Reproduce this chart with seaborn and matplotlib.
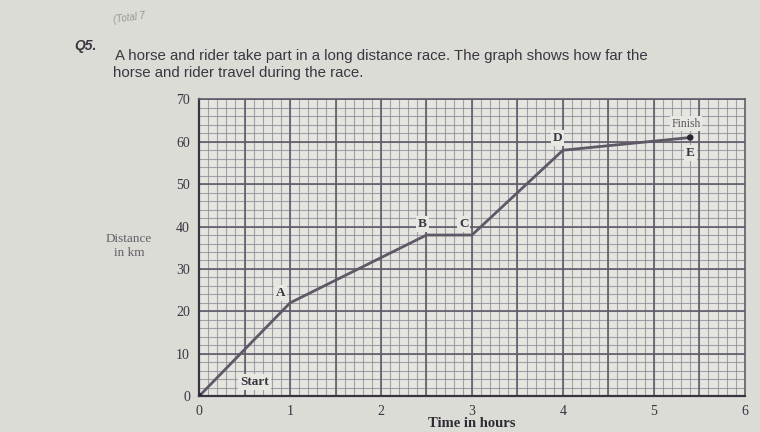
import numpy as np
import pandas as pd
import matplotlib as mpl
mpl.use('Agg')
import seaborn as sns
import matplotlib.pyplot as plt
from matplotlib.ticker import MultipleLocator

# points (time in hours, distance in km)
point_names = ['Start', 'A', 'B', 'C', 'D', 'E']
hours = [0.0, 1.0, 2.5, 3.0, 4.0, 5.4]
distance = [0.0, 22.0, 38.0, 38.0, 58.0, 61.0]

x_ticks = [0, 1, 2, 3, 4, 5, 6]
y_ticks = [0, 10, 20, 30, 40, 50, 60, 70]

paper = '#dcdcd6'
ink = '#5f5866'
grid_minor = '#8d8694'
grid_major = '#625a6a'

sns.set_theme(style='white')
plt.rcParams['font.family'] = ['Liberation Sans', 'DejaVu Sans']

fig = plt.figure(figsize=(7.6, 4.32), dpi=100, facecolor=paper)
ax = fig.add_axes([0.262, 0.083, 0.718, 0.687])
ax.set_facecolor('#e6e6e0')

race_df = pd.DataFrame({'hours': hours, 'distance': distance,
                        'point': point_names})

# graph paper grid: small squares of 0.1 h by 2 km, heavy every 0.5 h / 10 km
for xv in np.arange(0.1, 6, 0.1):
    ax.axvline(xv, color=grid_minor, lw=0.8, alpha=0.75, zorder=1)
for yv in np.arange(2, 70, 2):
    ax.axhline(yv, color=grid_minor, lw=0.8, alpha=0.75, zorder=1)
for xv in np.arange(0.5, 6, 0.5):
    ax.axvline(xv, color=grid_major, lw=1.2, zorder=1)
for yv in y_ticks[1:]:
    ax.axhline(yv, color=grid_major, lw=1.2, zorder=1)

# the journey
sns.lineplot(data=race_df, x='hours', y='distance', ax=ax, color=ink,
             lw=2.0, sort=False, zorder=3)
ends = race_df.iloc[[0, -1]]
sns.scatterplot(data=ends, x='hours', y='distance', ax=ax, color='#2a2530',
                s=22, zorder=4, edgecolor='none')

# point labels
box = dict(boxstyle='square,pad=0.15', fc='#e8e8e3', ec='none')
offsets = {'Start': (40, 10), 'A': (-7, 7), 'B': (-3, 8), 'C': (-6, 8),
           'D': (-4, 9), 'E': (0, -11)}
for _, row in race_df.iterrows():
    ax.annotate(row['point'], (row['hours'], row['distance']),
                xytext=offsets[row['point']], textcoords='offset points',
                ha='center', va='center', fontsize=9.5, color='#3a3440',
                family='Liberation Serif', weight='bold', bbox=box, zorder=5)
ax.annotate('Finish', (hours[-1], distance[-1]), xytext=(-3, 10),
            textcoords='offset points', ha='center', va='center',
            fontsize=8.5, color='#5a5460', family='Liberation Serif',
            bbox=box, zorder=5)

ax.set_xlim(0, 6)
ax.set_ylim(0, 70)
ax.set_xticks(x_ticks)
ax.set_yticks(y_ticks)
ax.set_xticks(np.arange(0.5, 6, 1.0), minor=True)
ax.tick_params(axis='both', which='major', direction='inout', length=7,
               width=1.3, color='#3a3440', labelsize=10,
               labelcolor='#3a3440')
ax.tick_params(axis='x', which='minor', direction='inout', length=5,
               width=1.1, color='#3a3440')
ax.tick_params(axis='y', which='minor', length=0)
ax.tick_params(axis='x', pad=3)
ax.tick_params(axis='y', pad=3)
for lab in ax.get_xticklabels() + ax.get_yticklabels():
    lab.set_family('Liberation Serif')

for side in ['left', 'bottom']:
    ax.spines[side].set_color('#3a3440')
    ax.spines[side].set_linewidth(1.6)
for side in ['top', 'right']:
    ax.spines[side].set_color(grid_major)
    ax.spines[side].set_linewidth(1.2)

ax.set_xlabel('Time in hours', family='Liberation Serif', fontsize=10.5,
              color='#2f2a33', weight='bold', labelpad=-1)
ax.set_ylabel('')

# worksheet text
fig.text(0.148, 0.975, '(Total 7', fontsize=7, color='#9a969a',
         style='italic', rotation=8, va='top')
fig.text(0.098, 0.885, 'Q5.', fontsize=10, color='#3c3640',
         weight='bold', style='italic')
fig.text(0.151, 0.86,
         'A horse and rider take part in a long distance race. '
         'The graph shows how far the',
         fontsize=10.8, color='#3c3640')
fig.text(0.149, 0.822, 'horse and rider travel during the race.',
         fontsize=10.8, color='#3c3640')
fig.text(0.17, 0.43, 'Distance\nin km', fontsize=9.5, color='#66606a',
         family='Liberation Serif', ha='center', va='center',
         linespacing=1.2)

fig.savefig('out.png', dpi=100, facecolor=paper)
